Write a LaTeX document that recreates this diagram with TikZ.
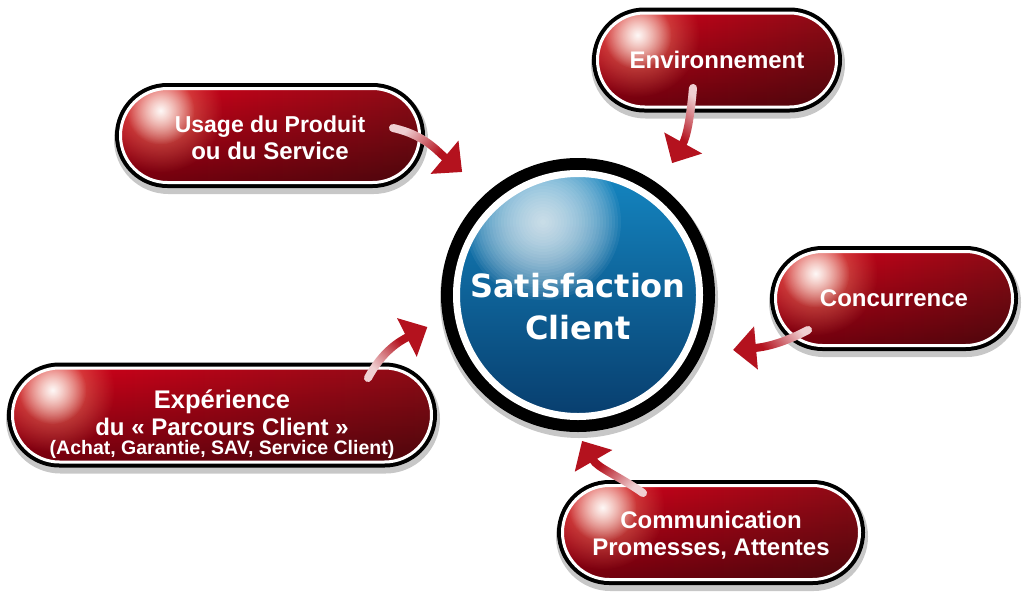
\documentclass[tikz,border=0pt]{standalone}
\usepackage{fontspec}
\setmainfont{Liberation Sans}
\newfontfamily\orbfont{DejaVu Sans}
\usetikzlibrary{shapes.misc,arrows.meta,fadings}

\definecolor{pillbright}{HTML}{D8001A}
\definecolor{pilldark}{HTML}{8C0C16}
\definecolor{pillglow}{HTML}{F39070}
\definecolor{orbtop}{HTML}{1485C0}
\definecolor{orbbottom}{HTML}{083E6E}
\definecolor{flowred}{HTML}{B4121E}

\tikzfading[name=glowfade, inner color=transparent!0, outer color=transparent!100]
\tikzfading[name=lowfade, top color=transparent!100, bottom color=transparent!0]
\pgfdeclarehorizontalshading{tailshade}{100bp}{color(0bp)=(transparent!80);
  color(28bp)=(transparent!80); color(58bp)=(transparent!0); color(100bp)=(transparent!0)}
\pgfdeclarefading{tailfade}{\pgfuseshading{tailshade}}

\tikzset{
  pill/.style={rounded rectangle, minimum width=#1, minimum height=94pt,
    inner sep=0pt, outer sep=0pt,
    left color=pillbright, right color=pilldark,
    draw=white, line width=3pt,
    preaction={draw=black, opacity=0.22, line width=15pt,
      transform canvas={shift={(1pt,-4pt)}}},
    preaction={draw=black, line width=11pt},
    path picture={
      \fill[black, opacity=0.45, path fading=lowfade]
        (path picture bounding box.south west) rectangle (path picture bounding box.north east);
      \fill[pillglow, opacity=0.8, path fading=glowfade]
        ([shift={(40pt,-22pt)}]path picture bounding box.north west) circle (62pt);
      \fill[white, opacity=0.95, path fading=glowfade]
        ([shift={(40pt,-22pt)}]path picture bounding box.north west) circle (34pt);
    },
    text=white, font=\bfseries\fontsize{24}{27}\selectfont, align=center},
  orb/.style={circle, minimum size=243pt, inner sep=0pt, outer sep=15.5pt,
    top color=orbtop, bottom color=orbbottom,
    draw=white, line width=7pt,
    preaction={draw=black, opacity=0.22, line width=35pt,
      transform canvas={shift={(1pt,-4pt)}}},
    preaction={draw=black, line width=31pt},
    path picture={
      \foreach \r in {78,75,...,3}
        \fill[white, opacity=0.06]
          ([shift={(-35pt,73pt)}]path picture bounding box.center) circle (\r pt);
    }},
  flow/.style={line width=8pt, line cap=round,
    -{Triangle[length=23pt,width=42pt]},
    preaction={draw=white, line width=8pt, line cap=round,
      -{Triangle[length=23pt,width=42pt]}},
    draw=flowred, path fading=tailfade, fading angle=#1}
}

\begin{document}
\begin{tikzpicture}[x=1pt,y=1pt]
\useasboundingbox (0,0) rectangle (1024,-597);

% centre
\node[orb] (orb) at (578,-295) {};
\node[font=\orbfont\bfseries\fontsize{32}{42}\selectfont, text=white, align=center]
  (orbtext) at ([yshift=-12pt]orb.center) {Satisfaction\\Client};

% factors
\node[pill=299pt] (usage) at (270,-135.5)
  {\rule{0pt}{22pt}\fontsize{23}{26}\selectfont Usage du Produit\\ou du Service};
\node[pill=239pt] (envir) at (717,-60) {Environnement};
\node[pill=237pt] (concur) at (894,-298.5) {Concurrence};
\node[pill=419pt] (exper) at (222,-415)
  {\fontsize{25.5}{30}\selectfont\rule{0pt}{38pt}Expérience\\du « Parcours Client »\\[-8pt]%
   {\fontsize{19.5}{19}\selectfont (Achat, Garantie, SAV, Service Client)}};
\node[pill=297pt] (commun) at (711,-532.5)
  {\rule{0pt}{23pt}Communication\\Promesses, Attentes};

% arrow ends
\coordinate (usagetip) at ([shift={(133.3:169)}]orb.center);
\coordinate (envirtip) at ([shift={(54.5:162)}]orb.center);
\coordinate (concurtip) at ([shift={(-19.5:164.5)}]orb.center);
\coordinate (communtip) at ([shift={(-88.4:146)}]orb.center);
\coordinate (expertip) at ([shift={(-168:154)}]orb.center);

\draw[flow=-32] ([shift={(123,7.5)}]usage.center) to[out=-12,in=140] (usagetip);
\draw[flow=-106] ([shift={(-24,-28)}]envir.center) to[out=-95,in=61] (envirtip);
\draw[flow=-165] ([shift={(-86,-31.5)}]concur.center) to[out=208,in=5] (concurtip);
\draw[flow=140] ([shift={(-68,39.5)}]commun.center) to[out=145,in=-60] (communtip);
\draw[flow=41] ([shift={(146,37)}]exper.center) to[out=62,in=207] (expertip);
\end{tikzpicture}
\end{document}
